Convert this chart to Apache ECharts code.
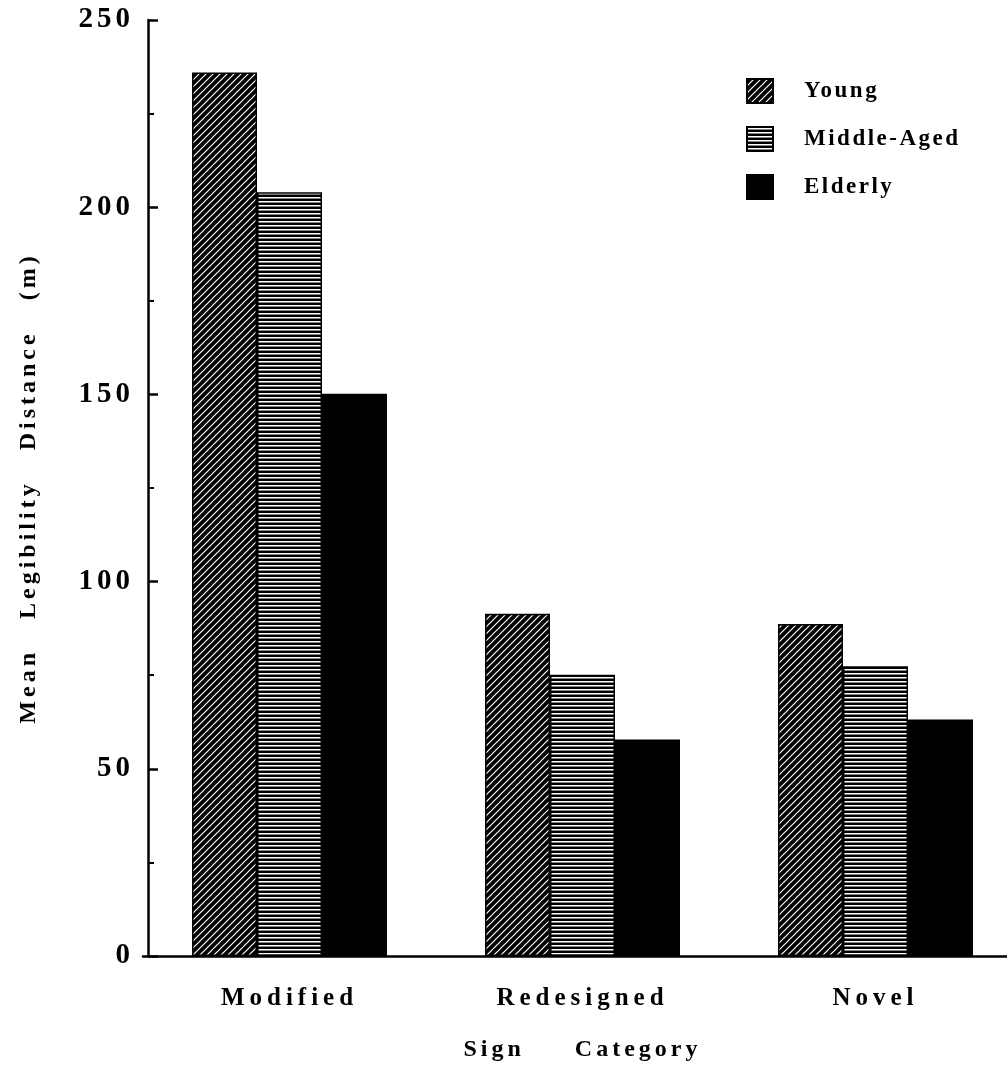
<!DOCTYPE html>
<html>
<head>
<meta charset="utf-8">
<script src="https://cdn.jsdelivr.net/npm/echarts@6/dist/echarts.min.js"></script>
<style>
  html, body { margin: 0; padding: 0; background: #fff; overflow: hidden; }
  #chart { width: 1007px; height: 1068px; }
</style>
</head>
<body>
<div id="chart"></div>
<script>
// ---- data ----
const categories = ['Modified', 'Redesigned', 'Novel'];
const seriesNames = ['Young', 'Middle-Aged', 'Elderly'];
const young = [236.0, 91.4, 88.7];
const middleAged = [204.0, 75.1, 77.4];
const elderly = [150.2, 57.8, 63.2];
const yTickValues = [0, 50, 100, 150, 200, 250];
const yTitle = 'Mean   Legibility   Distance   (m)';
const xTitle = 'Sign     Category';

// ---- letter spacing of the typeset original (by font size) ----
const letterSpacingBySize = { 29: '4px', 25: '5px', 24: '4px', 23: '2.5px' };
(function () {
  const proto = CanvasRenderingContext2D.prototype;
  if (!('letterSpacing' in proto)) return;
  const orig = proto.fillText;
  proto.fillText = function (t, x, y, mw) {
    const m = /(\d+(?:\.\d+)?)px/.exec(this.font || '');
    const ls = m ? letterSpacingBySize[Math.round(parseFloat(m[1]))] : null;
    const prev = this.letterSpacing;
    this.letterSpacing = ls || '0px';
    const r = mw === undefined ? orig.call(this, t, x, y) : orig.call(this, t, x, y, mw);
    this.letterSpacing = prev;
    return r;
  };
})();

// ---- patterns ----
function hatchPattern() {
  const s = 7;
  const c = document.createElement('canvas');
  c.width = s; c.height = s;
  const g = c.getContext('2d');
  g.fillStyle = '#000'; g.fillRect(0, 0, s, s);
  g.strokeStyle = '#fff'; g.lineWidth = 1.2;
  g.beginPath();
  g.moveTo(-s, 2 * s); g.lineTo(2 * s, -s);
  g.moveTo(-s, s); g.lineTo(s, -s);
  g.moveTo(0, 2 * s); g.lineTo(2 * s, 0);
  g.stroke();
  return c;
}
function stripePattern() {
  const c = document.createElement('canvas');
  c.width = 4; c.height = 4;
  const g = c.getContext('2d');
  g.fillStyle = '#000'; g.fillRect(0, 0, 4, 4);
  g.fillStyle = '#fff'; g.fillRect(0, 1, 4, 1.5);
  return c;
}
const fills = [
  { image: hatchPattern(), repeat: 'repeat' },
  { image: stripePattern(), repeat: 'repeat' },
  '#000'
];
const seriesData = [young, middleAged, elderly];

const FONT = '"Liberation Serif", "Times New Roman", serif';

const chart = echarts.init(document.getElementById('chart'), null, { renderer: 'canvas' });
chart.setOption({
  animation: false,
  backgroundColor: '#fff',
  grid: { left: 143, right: -15, top: 20, bottom: 112, outerBoundsMode: 'none', containLabel: false },
  legend: {
    orient: 'vertical',
    left: 746,
    top: 78,
    padding: 0,
    icon: 'rect',
    itemWidth: 26,
    itemHeight: 24,
    itemGap: 22,
    data: seriesNames,
    textStyle: { fontFamily: FONT, fontWeight: 'bold', fontSize: 23, color: '#000', padding: [0, 0, 0, 26], lineHeight: 24 }
  },
  xAxis: {
    type: 'category',
    data: categories,
    axisLine: { lineStyle: { color: '#000', width: 2.5 } },
    axisTick: { show: false },
    axisLabel: { fontFamily: FONT, fontWeight: 'bold', fontSize: 25, color: '#000', margin: 30 },
    name: xTitle,
    nameLocation: 'middle',
    nameGap: 82,
    nameTextStyle: { fontFamily: FONT, fontWeight: 'bold', fontSize: 24, color: '#000' }
  },
  yAxis: {
    type: 'value',
    min: 0,
    max: 250,
    interval: 50,
    offset: -5,
    axisLine: { show: true, lineStyle: { color: '#000', width: 2.5 } },
    axisTick: { show: true, inside: true, length: 10, lineStyle: { color: '#000', width: 2.5 } },
    minorTick: { show: true, splitNumber: 2, length: 6, lineStyle: { color: '#000', width: 2 } },
    splitLine: { show: false },
    axisLabel: {
      fontFamily: FONT, fontWeight: 'bold', fontSize: 29, color: '#000', margin: 14,
      formatter: v => (yTickValues.indexOf(v) >= 0 ? String(v) : '')
    },
    name: yTitle,
    nameLocation: 'middle',
    nameRotate: 90,
    nameGap: 107,
    nameTextStyle: { fontFamily: FONT, fontWeight: 'bold', fontSize: 24, color: '#000' }
  },
  series: seriesNames.map((name, i) => ({
    name: name,
    type: 'bar',
    data: seriesData[i],
    barWidth: 65,
    barGap: '0%',
    itemStyle: { color: fills[i], borderColor: '#000', borderWidth: 1.5 }
  }))
});
</script>
</body>
</html>
